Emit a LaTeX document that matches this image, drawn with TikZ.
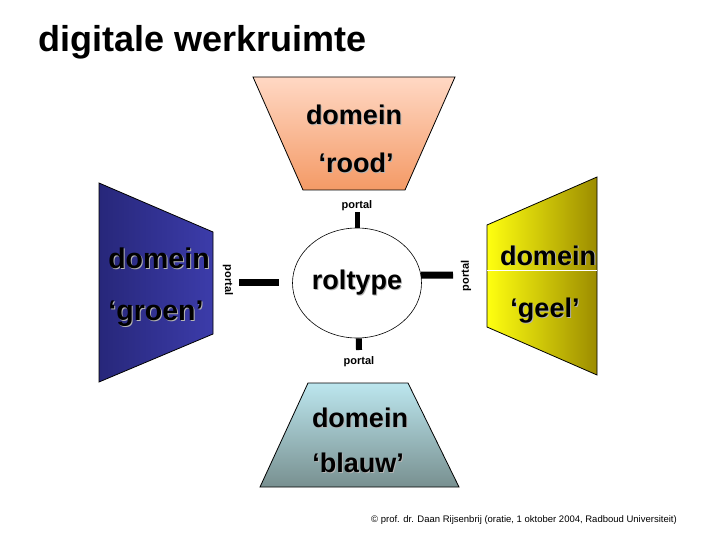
\documentclass[tikz,border=0pt]{standalone}
\usepackage{fontspec}
\setmainfont{Liberation Sans}
\usetikzlibrary{
  shapes.geometric,
  positioning,
  calc
}
\definecolor{dwRoodTop}{HTML}{FFD8C4}
\definecolor{dwRoodBot}{HTML}{F49A66}
\definecolor{dwGroenL}{HTML}{27277A}
\definecolor{dwGroenR}{HTML}{3C3CAA}
\definecolor{dwGeelL}{HTML}{FFFF10}
\definecolor{dwGeelR}{HTML}{9C8C00}
\definecolor{dwBlauwTop}{HTML}{BCE6EE}
\definecolor{dwBlauwBot}{HTML}{789090}
\definecolor{dwShade}{HTML}{B4B4B4}
\newcommand{\dwshadow}[1]{\leavevmode\rlap{\kern1pt\raisebox{-1pt}{\textcolor{dwShade}{#1}}}#1}
\tikzset{
  domeinvlak/.style={draw=black, line width=0.8pt, line join=miter},
  dlabel/.style={font=\fontsize{27}{32}\selectfont\bfseries, inner sep=0pt, anchor=base},
  portalbar/.style={line width=6pt, black},
  portallabel/.style={font=\fontsize{11}{13}\selectfont\bfseries, inner sep=0pt},
  rolnode/.style={
    draw, ellipse, fill=white, line width=0.6pt, minimum width=129, minimum height=110,
    inner sep=0pt, font=\fontsize{27}{32}\selectfont\bfseries
  },
  titel/.style={font=\fontsize{36}{40}\selectfont\bfseries, inner sep=0pt, anchor=base west},
  credit/.style={font=\fontsize{9.5}{11}\selectfont, inner sep=0pt}
}
\begin{document}
\begin{tikzpicture}[x=1pt, y=-1pt]
  \useasboundingbox (0,0) rectangle (720,540);
  \node[titel] (titel) at (38,52) {digitale werkruimte};

  % domein rood
  \coordinate (r1) at (253,77);
  \coordinate (r2) at (455,77);
  \coordinate (r3) at (405,190);
  \coordinate (r4) at (303,190);
  \path[domeinvlak, top color=dwRoodTop, bottom color=dwRoodBot] (r1) -- (r2) -- (r3) -- (r4) -- cycle;
  \node[dlabel] (rood1) at (354,125) {\dwshadow{domein}};
  \node[dlabel] (rood2) at (356,173) {\dwshadow{‘rood’}};

  % domein groen
  \coordinate (gn1) at (99,183);
  \coordinate (gn2) at (213,232);
  \coordinate (gn3) at (213,334);
  \coordinate (gn4) at (99,382);
  \path[domeinvlak, left color=dwGroenL, right color=dwGroenR] (gn1) -- (gn2) -- (gn3) -- (gn4) -- cycle;
  \node[dlabel, font=\fontsize{28.5}{32}\selectfont\bfseries] (groen1) at (159,268) {\dwshadow{domein}};
  \node[dlabel, font=\fontsize{28.5}{32}\selectfont\bfseries] (groen2) at (156,320) {\dwshadow{‘groen’}};

  % domein geel
  \coordinate (ge1) at (487,225);
  \coordinate (ge2) at (597,177);
  \coordinate (ge3) at (597,375);
  \coordinate (ge4) at (487,327);
  \coordinate (gel) at (487,270);
  \coordinate (ger) at (597,270);
  \path[domeinvlak, left color=dwGeelL, right color=dwGeelR] (ge1) -- (ge2) -- (ge3) -- (ge4) -- cycle;
  \draw[white, line width=1pt] (gel) -- (ger);
  \node[dlabel] (geel1) at (548,265) {\dwshadow{domein}};
  \node[dlabel] (geel2) at (545,317) {\dwshadow{‘geel’}};

  % domein blauw
  \coordinate (b1) at (308,383);
  \coordinate (b2) at (408,383);
  \coordinate (b3) at (459,487);
  \coordinate (b4) at (260,487);
  \path[domeinvlak, top color=dwBlauwTop, bottom color=dwBlauwBot] (b1) -- (b2) -- (b3) -- (b4) -- cycle;
  \node[dlabel] (blauw1) at (360,427) {\dwshadow{domein}};
  \node[dlabel] (blauw2) at (358,472) {\dwshadow{‘blauw’}};

  % roltype met portalen
  \node[rolnode] (rol) at (357,283) {\dwshadow{roltype}};
  \coordinate (pTop) at (357,212);
  \coordinate (pRight) at (453,275);
  \coordinate (pBot) at (359,350);
  \coordinate (pL1) at (239,282);
  \coordinate (pL2) at (279,282);
  \draw[portalbar, line width=5pt] (rol.north) -- (pTop);
  \draw[portalbar, line width=7pt] (rol.7) -- (pRight);
  \draw[portalbar] (rol.-88) -- (pBot);
  \draw[portalbar, line width=7pt] (pL1) -- (pL2);
  \node[portallabel] (lTop) at (357,206) {portal};
  \node[portallabel] (lBot) at (359,362) {portal};
  \node[portallabel, rotate=-90] (lLeft) at (228,280) {portal};
  \node[portallabel, rotate=90] (lRight) at (466,276) {portal};

  \node[credit] (credit) at (524,520) {© prof. dr. Daan Rijsenbrij (oratie, 1 oktober 2004, Radboud Universiteit)};
\end{tikzpicture}
\end{document}
